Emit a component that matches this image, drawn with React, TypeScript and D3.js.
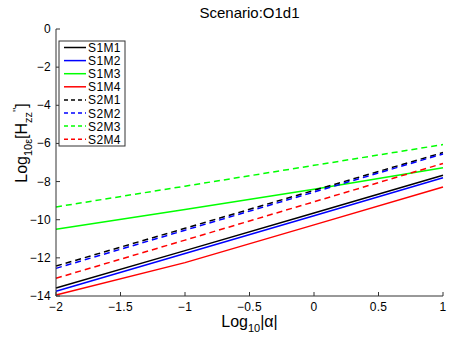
import React from 'react';
import * as d3 from 'd3';

const xs = [-2, -1, 0, 1];
const names = ['S1M1', 'S1M2', 'S1M3', 'S1M4', 'S2M1', 'S2M2', 'S2M3', 'S2M4'];
const colors = ['#000000', '#0000ff', '#00ff00', '#ff0000', '#000000', '#0000ff', '#00ff00', '#ff0000'];
const dashed = [false, false, false, false, true, true, true, true];
const S1M1 = [-13.58, -11.62, -9.65, -7.67];
const S1M2 = [-13.75, -11.77, -9.79, -7.8];
const S1M3 = [-10.5, -9.46, -8.4, -7.28];
const S1M4 = [-13.95, -12.25, -10.27, -8.28];
const S2M1 = [-12.43, -10.45, -8.46, -6.48];
const S2M2 = [-12.55, -10.55, -8.55, -6.55];
const S2M3 = [-9.33, -8.24, -7.15, -6.06];
const S2M4 = [-13.07, -11.07, -9.06, -7.05];
const series = [S1M1, S1M2, S1M3, S1M4, S2M1, S2M2, S2M3, S2M4];
const xTicks = [-2, -1.5, -1, -0.5, 0, 0.5, 1];
const yTicks = [0, -2, -4, -6, -8, -10, -12, -14];

const W = 450, H = 338;
const m = { top: 29, right: 7, bottom: 42, left: 56 };
const font = 'Liberation Sans, Arial, Helvetica, sans-serif';

export default function App() {
  const x = d3.scaleLinear().domain([-2, 1]).range([m.left, W - m.right]);
  const y = d3.scaleLinear().domain([-14, 0]).range([H - m.bottom, m.top]);
  const line = d3.line<number>().x((_, i) => x(xs[i])).y(d => y(d));
  const fmt = (v: number) => String(v).replace('-', '\u2212');

  return (
    <svg width={W} height={H} style={{ position: 'absolute', left: 0, top: 0, background: '#fff' }} fontFamily={font}>
      <g>
        {series.map((s, i) => (
          <path key={names[i]} d={line(s) || ''} fill="none" stroke={colors[i]}
            strokeWidth={1.5} strokeDasharray={dashed[i] ? '6,4' : undefined} />
        ))}
      </g>
      {/* axes */}
      <g stroke="#333" strokeWidth={1} fill="none">
        <line x1={m.left} x2={W - m.right} y1={y(-14)} y2={y(-14)} />
        <line x1={m.left} x2={m.left} y1={y(-14)} y2={y(0)} />
        {xTicks.map(t => <line key={'xt' + t} x1={x(t)} x2={x(t)} y1={y(-14)} y2={y(-14) - 4} />)}
        {yTicks.map(t => <line key={'yt' + t} x1={m.left} x2={m.left + 4} y1={y(t)} y2={y(t)} />)}
      </g>
      <g fontSize={12} fill="#000" letterSpacing={0.3}>
        {xTicks.map(t => (
          <text key={'xl' + t} x={x(t)} y={y(-14) + 15} textAnchor="middle">{fmt(t)}</text>
        ))}
        {yTicks.map(t => (
          <text key={'yl' + t} x={m.left - 5} y={y(t) + 4} textAnchor="end">{fmt(t)}</text>
        ))}
      </g>
      <text x={(x(-2) + x(1)) / 2} y={18} textAnchor="middle" fontSize={15}>Scenario:O1d1</text>
      <text x={(x(-2) + x(1)) / 2} y={327} textAnchor="middle" fontSize={16}>
        Log<tspan fontSize={11} dy={5}>10</tspan><tspan dy={-5}>|α|</tspan>
      </text>
      <text transform={`translate(27,143) rotate(-90)`} textAnchor="middle" fontSize={16}>
        Log<tspan fontSize={11} dy={5}>10</tspan><tspan fontSize={11}>ε</tspan>
        <tspan dy={-5}>[H</tspan><tspan fontSize={11} dy={5}>zz</tspan>
        <tspan fontSize={11} dy={-11}>''</tspan><tspan dy={6}>]</tspan>
      </text>
      {/* legend */}
      <g>
        <rect x={59} y={41} width={66} height={105} fill="#fff" stroke="#333" strokeWidth={1} />
        {names.map((n, i) => (
          <g key={n} transform={`translate(0,${47.5 + i * 13.1})`}>
            <line x1={64} x2={86} y1={0} y2={0} stroke={colors[i]} strokeWidth={1.5}
              strokeDasharray={dashed[i] ? '4,3' : undefined} />
            <text x={88} y={4.5} fontSize={12} letterSpacing={0.4}>{n}</text>
          </g>
        ))}
      </g>
    </svg>
  );
}
